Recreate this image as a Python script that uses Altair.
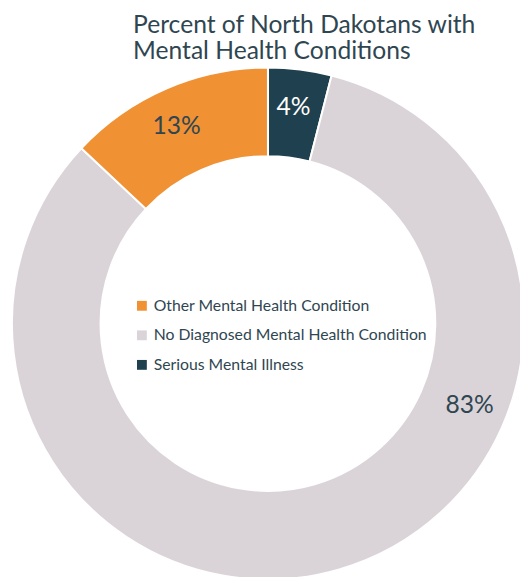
import altair as alt
import pandas as pd

# Data
categories = [
    "Serious Mental Illness",
    "No Diagnosed Mental Health Condition",
    "Other Mental Health Condition",
]
values = [4, 83, 13]
labels = ["4%", "83%", "13%"]
slice_order = [0, 1, 2]
legend_order = [
    "Other Mental Health Condition",
    "No Diagnosed Mental Health Condition",
    "Serious Mental Illness",
]
slice_colors = ["#F09134", "#DAD4D9", "#1F404E"]  # in legend_order
label_colors = ["#FFFFFF", "#2F4651", "#2F4651"]

df = pd.DataFrame({
    "category": categories,
    "value": values,
    "label": labels,
    "ord": slice_order,
    "label_color": label_colors,
})

TEXT = "#2F4651"
CX, CY = 264, 256

base = alt.Chart(df)

arcs = base.mark_arc(outerRadius=260, innerRadius=170, stroke="white", strokeWidth=2).encode(
    theta=alt.Theta("value:Q", stack=True),
    order=alt.Order("ord:Q"),
    color=alt.Color(
        "category:N",
        scale=alt.Scale(domain=legend_order, range=slice_colors),
        legend=alt.Legend(
            title=None,
            orient="none",
            legendX=128,
            legendY=230,
            symbolType="square",
            symbolSize=100,
            symbolStrokeWidth=0,
            labelFont="Lato",
            labelFontSize=16,
            labelColor=TEXT,
            labelOffset=4,
            labelLimit=400,
            rowPadding=14,
            padding=0,
        ),
    ),
    x=alt.value(CX),
    y=alt.value(CY),
)

texts = base.transform_window(
    cum="sum(value)", sort=[alt.SortField("ord")], frame=[None, 0]
).transform_joinaggregate(
    total="sum(value)"
).transform_calculate(
    frac="(datum.cum - datum.value + datum.value * (datum.value > 50 ? 0.327 : 0.47)) / datum.total"
).mark_text(radius=221, font="Lato", fontSize=25, baseline="middle", align="center").encode(
    theta=alt.Theta("frac:Q", stack=None, scale=alt.Scale(domain=[0, 1], range=[0, 6.283185307179586])),
    text="label:N",
    color=alt.Color("label_color:N", scale=None),
    x=alt.value(CX),
    y=alt.value(CY),
)

chart = alt.layer(arcs, texts).resolve_scale(theta="independent", color="independent").properties(
    width=520,
    height=509,
    padding={"left": 0, "top": 60, "right": 0, "bottom": 0},
    autosize=alt.AutoSizeParams(type="none"),
    title=alt.TitleParams(
        text=["Percent of North Dakotans with", "Mental Health Conditions"],
        anchor="start",
        dx=127,
        offset=-20,
        baseline="alphabetic",
        font="Lato",
        fontSize=25,
        fontWeight="normal",
        lineHeight=26,
        color=TEXT,
    ),
).configure_view(stroke=None)

chart.save("out.html", embed_options={"renderer": "svg", "actions": False})
